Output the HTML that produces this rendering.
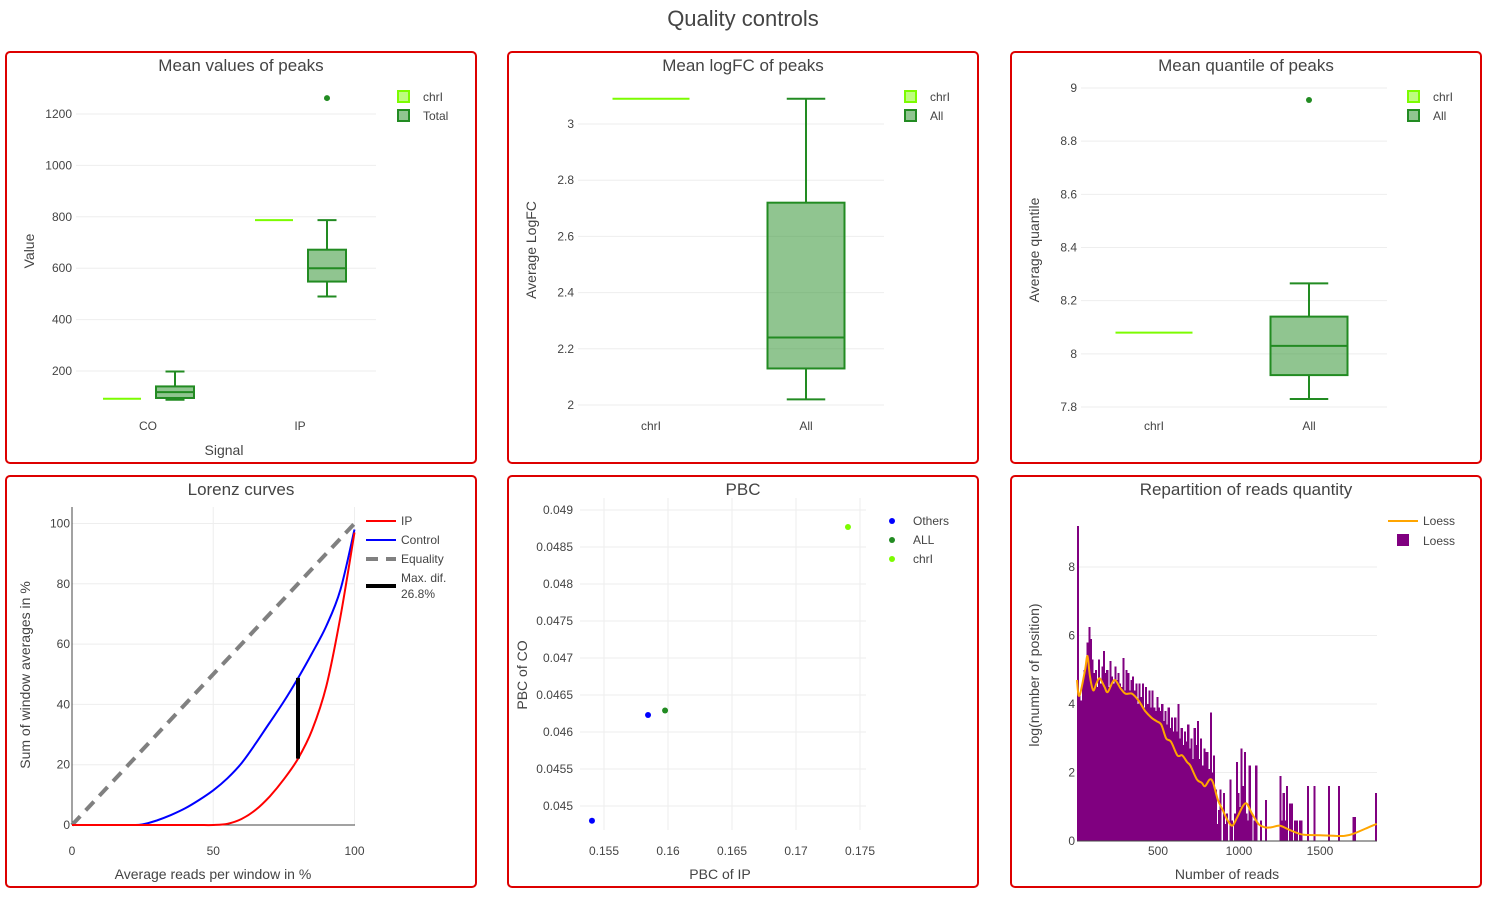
<!DOCTYPE html>
<html><head><meta charset="utf-8"><style>
body{margin:0;background:#fff;}
svg{display:block;font-family:"Liberation Sans","DejaVu Sans",sans-serif;}
text{fill:#444;}
.tk{font-size:12px;}
.at{font-size:14px;}
.st{font-size:17px;}
.lg{font-size:12px;}
</style></head><body>
<svg id="root" width="1497" height="902" viewBox="0 0 1497 902" xmlns="http://www.w3.org/2000/svg">
<text x="743" y="26" text-anchor="middle" style="font-size:22px">Quality controls</text>
<rect x="6" y="52" width="470" height="411" rx="4" fill="none" stroke="#d00" stroke-width="2"/>
<rect x="508" y="52" width="470" height="411" rx="4" fill="none" stroke="#d00" stroke-width="2"/>
<rect x="1011" y="52" width="470" height="411" rx="4" fill="none" stroke="#d00" stroke-width="2"/>
<rect x="6" y="476" width="470" height="411" rx="4" fill="none" stroke="#d00" stroke-width="2"/>
<rect x="508" y="476" width="470" height="411" rx="4" fill="none" stroke="#d00" stroke-width="2"/>
<rect x="1011" y="476" width="470" height="411" rx="4" fill="none" stroke="#d00" stroke-width="2"/>
<text class="st" x="241" y="71" text-anchor="middle">Mean values of peaks</text>
<text class="st" x="743" y="71" text-anchor="middle">Mean logFC of peaks</text>
<text class="st" x="1246" y="71" text-anchor="middle">Mean quantile of peaks</text>
<text class="st" x="241" y="495" text-anchor="middle">Lorenz curves</text>
<text class="st" x="743" y="495" text-anchor="middle">PBC</text>
<text class="st" x="1246" y="495" text-anchor="middle">Repartition of reads quantity</text>
<g id="g"></g>
</svg>
<script>
// ---- data ----
const p1Cats=["CO","IP"];
const p1ChrI=[92,787];
const p1Box=[[88,95,118,140,198],[490,548,600,672,787]];
const p1Out=[[],[1262]];
const p1Ticks=[200,400,600,800,1000,1200];
const p2Cats=["chrI","All"];
const p2ChrI=3.09;
const p2Box=[2.02,2.13,2.24,2.72,3.09];
const p2Ticks=[2,2.2,2.4,2.6,2.8,3];
const p3Cats=["chrI","All"];
const p3ChrI=8.08;
const p3Box=[7.83,7.92,8.03,8.14,8.265];
const p3Out=[8.955];
const p3Ticks=[7.8,8,8.2,8.4,8.6,8.8,9];
const lzX=[0,20,25,30,35,40,45,50,55,60,65,70,75,80,85,90,95,100];
const lzControl=[0,0,0.2,1.5,3.3,5.5,8.3,11.5,15.5,20.5,27,34,41,48.7,57,66,78,98];
const lzIP=[0,0,0,0,0,0,0,0,0.4,2.0,5.0,9.5,15.2,22,31.5,46,69,97];
const lzMaxX=80, lzMaxLo=22, lzMaxHi=48.8;
const pbcOthersX=[0.15406,0.15844];
const pbcOthersY=[0.0448,0.04623];
const pbcAllX=[0.15977], pbcAllY=[0.04629];
const pbcChrX=[0.17406], pbcChrY=[0.04877];
const pbcXTicks=[0.155,0.16,0.165,0.17,0.175];
const pbcYTicks=[0.045,0.0455,0.046,0.0465,0.047,0.0475,0.048,0.0485,0.049];
const histBin=10;
const histVals=[9.2,4.3,4.1,4.6,5.0,5.1,5.8,6.25,5.9,5.3,
4.9,5.0,4.5,5.3,4.6,5.1,5.55,4.9,5.0,4.5,
5.25,4.8,4.6,5.1,4.7,4.9,4.6,4.5,5.35,4.4,
5.0,4.9,4.4,4.7,4.8,4.4,4.6,4.0,4.6,4.2,
4.6,3.9,4.5,4.0,4.4,3.9,4.4,3.9,3.8,4.2,
3.9,3.8,4.0,3.5,3.8,3.4,3.9,3.3,3.6,3.2,
3.6,3.2,4.0,3.0,3.3,2.8,3.2,2.9,3.4,2.7,
3.0,2.4,3.3,2.8,3.5,2.4,3.0,2.2,2.7,2.6,
2.6,2.1,3.75,2.0,2.5,1.5,0.5,0.9,1.5,0.0,
1.4,0.5,0.8,0.0,1.8,0.6,0.0,0.8,2.3,1.4,
1.0,2.7,1.6,2.6,0.8,0.6,2.2,0.8,0.0,0.6,
2.2,0.0,0.0,0.6,0.0,0.0,1.2,0.0,0.0,0.0,
0,0,0,0,0,1.9,0.6,1.4,0.6,1.6,
0.0,1.1,1.1,0.0,0.6,0.6,0.0,0.6,0.6,0.0,
0.0,0.0,1.6,0.0,0.0,0.0,1.6,0.0,0.0,0.0,
0.0,0.0,0.0,0.0,0.0,1.6,0.0,0.0,0.0,0.0,
0.0,1.6,0.0,0.0,0.0,0.0,0.0,0.0,0.0,0.0,
0.7,0.7,0.0,0.0,0.0,0.0,0.0,0.0,0.0,0.0,
0,0,0,0,1.4];
const loessX=[0,10,25,50,65,80,100,120,140,170,190,230,270,300,340,380,420,460,490,520,550,580,620,650,680,700,740,770,790,820,840,870,900,930,960,990,1040,1080,1120,1160,1200,1250,1300,1350,1400,1500,1600,1650,1700,1800,1850];
const loessY=[4.7,4.25,4.4,5.0,5.4,4.8,4.4,4.6,4.75,4.5,4.35,4.7,4.45,4.3,4.3,4.1,3.8,3.6,3.5,3.4,3.0,2.9,2.5,2.5,2.3,2.2,1.8,1.7,1.6,1.8,1.7,1.2,0.9,0.6,0.45,0.7,1.1,0.8,0.5,0.4,0.4,0.45,0.35,0.25,0.18,0.17,0.15,0.15,0.2,0.4,0.5];
const histXTicks=[500,1000,1500];
const histYTicks=[0,2,4,6,8];

const NS="http://www.w3.org/2000/svg";
const G=document.getElementById('g');
function mk(tag,attrs,name,inter){
  const e=document.createElementNS(NS,tag);
  for(const k in attrs)e.setAttribute(k,attrs[k]);
  
  
  G.appendChild(e);return e;
}
function txt(x,y,s,cls,name,anchor,rot){
  const e=mk('text',{x:x,y:y,'class':cls,'text-anchor':anchor||'middle'},name,false);
  if(rot)e.setAttribute('transform','rotate(-90 '+x+' '+y+')');
  e.textContent=s;return e;
}
function lin(d0,d1,r0,r1){return v=>r0+(v-d0)*(r1-r0)/(d1-d0);}
function smooth(P){
  let d='M'+P[0][0].toFixed(1)+','+P[0][1].toFixed(1);
  for(let i=0;i<P.length-1;i++){
    const p0=P[Math.max(i-1,0)],p1=P[i],p2=P[i+1],p3=P[Math.min(i+2,P.length-1)];
    const c1=[p1[0]+(p2[0]-p0[0])/6,p1[1]+(p2[1]-p0[1])/6];
    const c2=[p2[0]-(p3[0]-p1[0])/6,p2[1]-(p3[1]-p1[1])/6];
    d+=' C'+c1.map(v=>v.toFixed(1)).join(',')+' '+c2.map(v=>v.toFixed(1)).join(',')+' '+p2.map(v=>v.toFixed(1)).join(',');
  }
  return d;
}
const GREEN='#228b22',LIGHT='#7cfc00';
function hgrid(ys,x0,x1,fmt,name){
  ys.forEach(v=>{
    const yy=fmt.y(v);
    mk('line',{x1:x0,x2:x1,y1:yy,y2:yy,stroke:'#eee','stroke-width':1},name+'-gridline',false);
    txt(x0-4,yy+4,fmt.f?fmt.f(v):String(v),'tk',name+'-tick-label','end');
  });
}
function box(xc,w,s,y,name){
  const cap=w/2;
  mk('line',{x1:xc,x2:xc,y1:y(s[0]),y2:y(s[1]),stroke:GREEN,'stroke-width':2},name+'-lower-whisker',false);
  mk('line',{x1:xc,x2:xc,y1:y(s[3]),y2:y(s[4]),stroke:GREEN,'stroke-width':2},name+'-upper-whisker',false);
  mk('line',{x1:xc-cap/2,x2:xc+cap/2,y1:y(s[0]),y2:y(s[0]),stroke:GREEN,'stroke-width':2},name+'-lower-cap',false);
  mk('line',{x1:xc-cap/2,x2:xc+cap/2,y1:y(s[4]),y2:y(s[4]),stroke:GREEN,'stroke-width':2},name+'-upper-cap',false);
  mk('rect',{x:xc-w/2,y:y(s[3]),width:w,height:y(s[1])-y(s[3]),fill:'rgba(34,139,34,0.5)',stroke:GREEN,'stroke-width':2},name+'-box',true);
  mk('line',{x1:xc-w/2,x2:xc+w/2,y1:y(s[2]),y2:y(s[2]),stroke:GREEN,'stroke-width':2},name+'-median',false);
}
function flat(xc,w,v,y,name){
  mk('line',{x1:xc-w/2,x2:xc+w/2,y1:y(v),y2:y(v),stroke:LIGHT,'stroke-width':2},name,true);
}
function boxLegend(x,y0,labels,pref){
  mk('rect',{x:x,y:y0-6,width:11,height:11,fill:'rgba(124,252,0,0.5)',stroke:LIGHT,'stroke-width':2},pref+'-legend-swatch-chri',true);
  txt(x+25,y0+4,labels[0],'lg',pref+'-legend-label-chri','start');
  mk('rect',{x:x,y:y0+13,width:11,height:11,fill:'rgba(34,139,34,0.5)',stroke:GREEN,'stroke-width':2},pref+'-legend-swatch-total',true);
  txt(x+25,y0+23,labels[1],'lg',pref+'-legend-label-total','start');
}
// Panel 1
(function(){
  const y=lin(200,1200,371,114);
  hgrid(p1Ticks,76,376,{y:y},'p1');
  const cx=[148,300];
  p1Cats.forEach((c,i)=>{
    txt(cx[i],430,c,'tk','p1-x-tick-label');
    flat(cx[i]-26,38,p1ChrI[i],y,'p1-chri-'+c);
    box(cx[i]+27,38,p1Box[i],y,'p1-total-'+c);
    p1Out[i].forEach(v=>mk('circle',{cx:cx[i]+27,cy:y(v),r:3,fill:GREEN},'p1-outlier',true));
  });
  txt(224,455,'Signal','at','p1-x-axis-title');
  txt(34,251,'Value','at','p1-y-axis-title','middle',true);
  boxLegend(398,97,['chrI','Total'],'p1');
})();
// Panel 2
(function(){
  const y=lin(2,3,405,124);
  hgrid(p2Ticks,578,884,{y:y,f:v=>String(v)},'p2');
  const cx=[651,806];
  p2Cats.forEach((c,i)=>txt(cx[i],430,c,'tk','p2-x-tick-label'));
  flat(cx[0],77,p2ChrI,y,'p2-chri-line');
  box(cx[1],77,p2Box,y,'p2-all');
  txt(536,250,'Average LogFC','at','p2-y-axis-title','middle',true);
  boxLegend(905,97,['chrI','All'],'p2');
})();
// Panel 3
(function(){
  const y=lin(7.8,9,407,88);
  hgrid(p3Ticks,1081,1387,{y:y,f:v=>String(v)},'p3');
  const cx=[1154,1309];
  p3Cats.forEach((c,i)=>txt(cx[i],430,c,'tk','p3-x-tick-label'));
  flat(cx[0],77,p3ChrI,y,'p3-chri-line');
  box(cx[1],77,p3Box,y,'p3-all');
  p3Out.forEach(v=>mk('circle',{cx:cx[1],cy:y(v),r:3,fill:GREEN},'p3-outlier',true));
  txt(1039,250,'Average quantile','at','p3-y-axis-title','middle',true);
  boxLegend(1408,97,['chrI','All'],'p3');
})();
// Panel 4 Lorenz
(function(){
  const x=lin(0,100,72,354.5), y=lin(0,100,825,523.5);
  [20,40,60,80,100].forEach(v=>{
    mk('line',{x1:72,x2:355,y1:y(v),y2:y(v),stroke:'#eee'},'p4-h-gridline',false);
  });
  [0,20,40,60,80,100].forEach(v=>txt(70,y(v)+4,String(v),'tk','p4-y-tick-label','end'));
  [50,100].forEach(v=>mk('line',{x1:x(v),x2:x(v),y1:507,y2:825,stroke:'#eee'},'p4-v-gridline',false));
  [0,50,100].forEach(v=>txt(x(v),855,String(v),'tk','p4-x-tick-label'));
  mk('line',{x1:72,x2:72,y1:507,y2:825,stroke:'#444'},'p4-y-axis-line',false);
  mk('line',{x1:72,x2:355,y1:825,y2:825,stroke:'#444'},'p4-x-axis-line',false);
  mk('line',{x1:x(0),y1:y(0),x2:x(100),y2:y(100),stroke:'#808080','stroke-width':4,'stroke-dasharray':'12,8'},'p4-equality-line',true);
  const pts=a=>lzX.map((v,i)=>[x(v),y(a[i])]);
  mk('path',{d:smooth(pts(lzControl)),fill:'none',stroke:'#00f','stroke-width':2},'p4-control-curve',true);
  mk('path',{d:smooth(pts(lzIP)),fill:'none',stroke:'#f00','stroke-width':2},'p4-ip-curve',true);
  mk('line',{x1:x(lzMaxX),x2:x(lzMaxX),y1:y(lzMaxLo),y2:y(lzMaxHi),stroke:'#000','stroke-width':4},'p4-max-diff-line',true);
  txt(30,675,'Sum of window averages in %','at','p4-y-axis-title','middle',true);
  txt(213,879,'Average reads per window in %','at','p4-x-axis-title');
  mk('line',{x1:366,x2:396,y1:521,y2:521,stroke:'#f00','stroke-width':2},'p4-legend-ip-line',true);
  txt(401,525,'IP','lg','p4-legend-ip-label','start');
  mk('line',{x1:366,x2:396,y1:540,y2:540,stroke:'#00f','stroke-width':2},'p4-legend-control-line',true);
  txt(401,544,'Control','lg','p4-legend-control-label','start');
  mk('line',{x1:366,x2:396,y1:559,y2:559,stroke:'#808080','stroke-width':4,'stroke-dasharray':'12,8'},'p4-legend-equality-line',true);
  txt(401,563,'Equality','lg','p4-legend-equality-label','start');
  mk('line',{x1:366,x2:396,y1:586,y2:586,stroke:'#000','stroke-width':4},'p4-legend-maxdif-line',true);
  txt(401,582,'Max. dif.','lg','p4-legend-maxdif-label','start');
  txt(401,598,'26.8%','lg','p4-legend-maxdif-value','start');
})();
// Panel 5 PBC
(function(){
  const x=lin(0.155,0.175,604,860), y=lin(0.045,0.049,806,510);
  pbcYTicks.forEach(v=>{
    mk('line',{x1:580,x2:866,y1:y(v),y2:y(v),stroke:'#eee'},'p5-h-gridline',false);
    txt(573,y(v)+4,String(v),'tk','p5-y-tick-label','end');
  });
  pbcXTicks.forEach(v=>{
    mk('line',{x1:x(v),x2:x(v),y1:498,y2:830,stroke:'#eee'},'p5-v-gridline',false);
    txt(x(v),855,String(v),'tk','p5-x-tick-label');
  });
  pbcOthersX.forEach((v,i)=>mk('circle',{cx:x(v),cy:y(pbcOthersY[i]),r:3,fill:'#00f'},'p5-point-others',true));
  pbcAllX.forEach((v,i)=>mk('circle',{cx:x(v),cy:y(pbcAllY[i]),r:3,fill:GREEN},'p5-point-all',true));
  pbcChrX.forEach((v,i)=>mk('circle',{cx:x(v),cy:y(pbcChrY[i]),r:3,fill:LIGHT},'p5-point-chri',true));
  txt(527,675,'PBC of CO','at','p5-y-axis-title','middle',true);
  txt(720,879,'PBC of IP','at','p5-x-axis-title');
  [['Others','#00f'],['ALL',GREEN],['chrI',LIGHT]].forEach((l,i)=>{
    mk('circle',{cx:892,cy:521+19*i,r:3,fill:l[1]},'p5-legend-marker-'+l[0].toLowerCase(),true);
    txt(913,525+19*i,l[0],'lg','p5-legend-label-'+l[0].toLowerCase(),'start');
  });
})();
// Panel 6 histogram
(function(){
  const x=lin(0,500,1077,1158), y=lin(0,8,841,567);
  histYTicks.forEach(v=>{
    if(v>0)mk('line',{x1:1077,x2:1377,y1:y(v),y2:y(v),stroke:'#eee'},'p6-h-gridline',false);
    txt(1075,y(v)+4,String(v),'tk','p6-y-tick-label','end');
  });
  histXTicks.forEach(v=>txt(x(v),855,String(v),'tk','p6-x-tick-label'));
  histVals.forEach((v,i)=>{
    if(v<=0)return;
    const x0=x(i*histBin), x1=x((i+1)*histBin);
    mk('rect',{x:x0,y:y(v),width:x1-x0+0.5,height:y(0)-y(v),fill:'#800080','shape-rendering':'crispEdges'},'p6-hist-bar',true);
  });
  mk('line',{x1:1077,x2:1377,y1:841,y2:841,stroke:'#444'},'p6-x-axis-line',false);
  mk('path',{d:smooth(loessX.map((v,i)=>[x(v),y(loessY[i])])),fill:'none',stroke:'#ffa500','stroke-width':2},'p6-loess-curve',true);
  txt(1039,675,'log(number of position)','at','p6-y-axis-title','middle',true);
  txt(1227,879,'Number of reads','at','p6-x-axis-title');
  mk('line',{x1:1388,x2:1418,y1:521,y2:521,stroke:'#ffa500','stroke-width':2},'p6-legend-loess-line',true);
  txt(1423,525,'Loess','lg','p6-legend-loess-label','start');
  mk('rect',{x:1397,y:534,width:12,height:12,fill:'#800080'},'p6-legend-hist-swatch',true);
  txt(1423,545,'Loess','lg','p6-legend-hist-label','start');
})();
</script>
</body></html>
